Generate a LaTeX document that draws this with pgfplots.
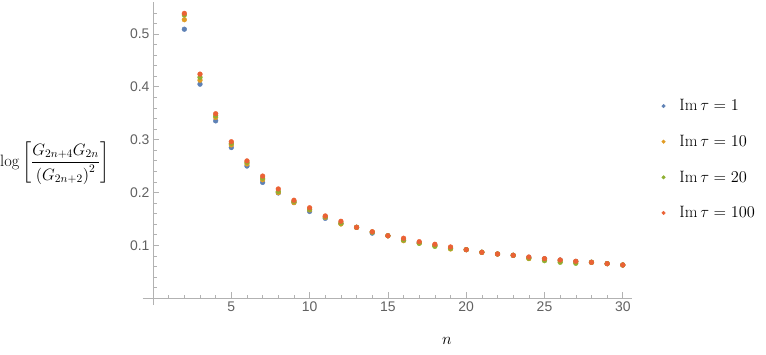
\RequirePackage{fix-cm}
\documentclass[border=0pt]{standalone}
\usepackage{amsmath}
\usepackage{fontspec}
\newfontfamily\tickfont{Liberation Sans}
\usepackage{pgfplots}
\pgfplotsset{compat=1.18}

\definecolor{mblue}{rgb}{0.368417,0.506779,0.709798}
\definecolor{morange}{rgb}{0.880722,0.611041,0.142051}
\definecolor{mgreen}{rgb}{0.560181,0.691569,0.194885}
\definecolor{mred}{rgb}{0.922526,0.385626,0.209179}

\begin{document}
\begin{tikzpicture}
\begin{axis}[
    scale only axis,
    width=489bp, height=303bp,
    xmin=-0.66, xmax=30.57,
    ymin=-0.0131, ymax=0.5605,
    axis lines=middle,
    axis line style={-, draw=black!30, line width=0.8pt},
    xtick={5,10,...,30},
    ytick={0.1,0.2,0.3,0.4,0.5},
    minor xtick={1,...,30},
    minor ytick={0.02,0.04,...,0.54},
    tick align=inside,
    major tick length=6bp, minor tick length=3.5bp,
    tick style={draw=black!30, line width=0.6pt},
    tick label style={font=\tickfont\fontsize{14}{16}\selectfont, text=black!62},
    /pgf/number format/assume math mode=true,
    xlabel={$n$},
    xlabel style={at={(rel axis cs:0.6223,-0.1188)}, anchor=center, inner sep=0pt,
      font=\fontsize{16.5}{19.8}\selectfont},
    ylabel={$\log\left[\dfrac{G_{2n+4}G_{2n}}{\left(G_{2n+2}\right)^2}\right]$},
    ylabel style={at={(rel axis cs:-0.2918,0.4686)}, anchor=west, rotate=0, inner sep=0pt,
      font=\fontsize{16.5}{19.8}\selectfont},
    legend style={draw=none, fill=none, at={(rel axis cs:1.0606,0.4802)}, anchor=west,
      inner xsep=0pt, inner ysep=0pt, row sep=19pt, column sep=12pt,
      font=\fontsize{16.5}{19.8}\selectfont},
    legend cell align=left,
    legend image code/.code={\fill[#1] (0pt,0pt) circle (1.8pt);},
  ]
  % Im tau = 1
  \addplot[only marks, mark=*, color=mblue, mark size=2.4pt] coordinates {
    (2,0.509)(3,0.405)(4,0.3355)(5,0.285)(6,0.250)(7,0.219)(8,0.199)
    (9,0.181)(10,0.164)(11,0.151)(12,0.141)(13,0.134)(14,0.123)(15,0.118)
    (16,0.1095)(17,0.105)(18,0.100)(19,0.095)(20,0.0917)(21,0.0867)
    (22,0.0835)(23,0.081)(24,0.077)(25,0.0745)(26,0.072)(27,0.0695)
    (28,0.0678)(29,0.0652)(30,0.0627)
  };
  % Im tau = 10
  \addplot[only marks, mark=*, color=morange, mark size=2.4pt] coordinates {
    (2,0.527)(3,0.4125)(4,0.342)(5,0.290)(6,0.254)(7,0.224)(8,0.1996)
    (9,0.1807)(10,0.167)(11,0.153)(12,0.1403)(13,0.134)(14,0.125)(15,0.118)
    (16,0.1087)(17,0.104)(18,0.099)(19,0.093)(20,0.0917)(21,0.0867)
    (22,0.0835)(23,0.081)(24,0.0747)(25,0.074)(26,0.071)(27,0.069)
    (28,0.0678)(29,0.0652)(30,0.0627)
  };
  % Im tau = 20
  \addplot[only marks, mark=*, color=mgreen, mark size=2.4pt] coordinates {
    (2,0.536)(3,0.418)(4,0.345)(5,0.293)(6,0.257)(7,0.227)(8,0.202)
    (9,0.183)(10,0.168)(11,0.154)(12,0.142)(13,0.134)(14,0.125)(15,0.118)
    (16,0.110)(17,0.1038)(18,0.098)(19,0.094)(20,0.0917)(21,0.0867)
    (22,0.0835)(23,0.081)(24,0.0755)(25,0.0708)(26,0.0678)(27,0.0659)
    (28,0.0678)(29,0.0652)(30,0.0627)
  };
  % Im tau = 100
  \addplot[only marks, mark=*, color=mred, mark size=2.4pt] coordinates {
    (2,0.539)(3,0.424)(4,0.349)(5,0.296)(6,0.2597)(7,0.231)(8,0.2066)
    (9,0.1852)(10,0.171)(11,0.1555)(12,0.1454)(13,0.134)(14,0.1257)(15,0.118)
    (16,0.1133)(17,0.1068)(18,0.1019)(19,0.0968)(20,0.0917)(21,0.0867)
    (22,0.0835)(23,0.081)(24,0.0778)(25,0.0747)(26,0.0722)(27,0.0697)
    (28,0.0678)(29,0.0652)(30,0.0627)
  };
  \legend{$\operatorname{Im}\tau = 1$, $\operatorname{Im}\tau = 10$,
    $\operatorname{Im}\tau = 20$, $\operatorname{Im}\tau = 100$}
  \coordinate (bl) at (rel axis cs:-0.2918,-0.1617);
  \coordinate (tr) at (rel axis cs:1.2746,1.0066);
\end{axis}
\pgfresetboundingbox
\path[use as bounding box] (bl) rectangle (tr);
\end{tikzpicture}
\end{document}
